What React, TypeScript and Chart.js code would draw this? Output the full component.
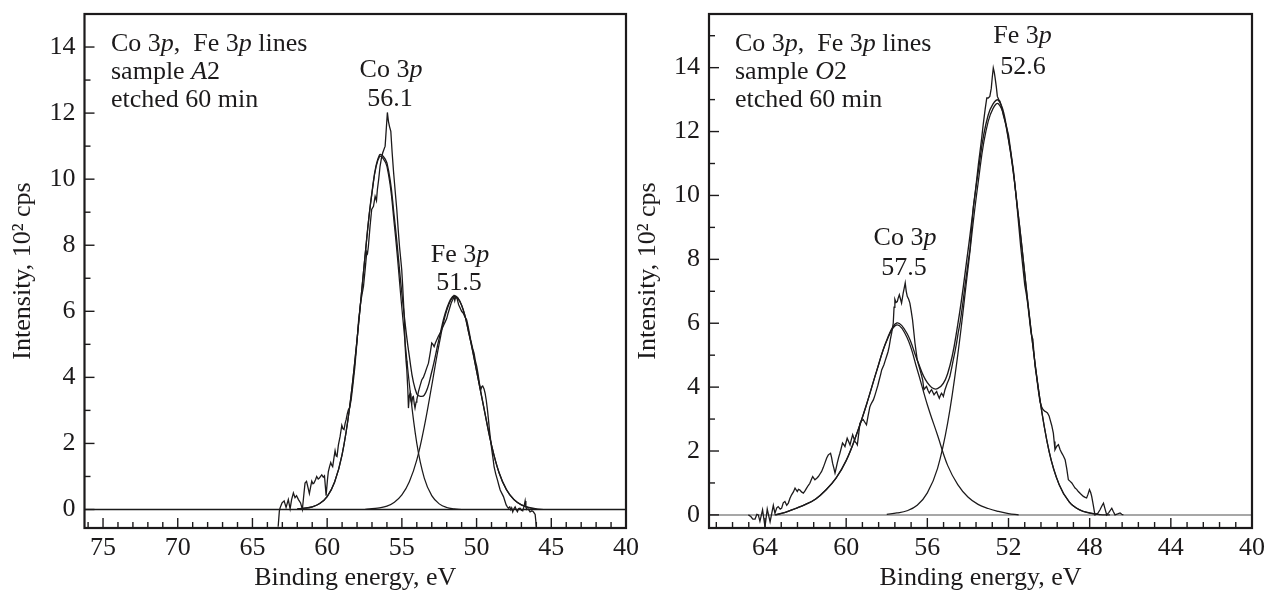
import React, { useEffect, useRef } from 'react';
import { Chart, registerables } from 'chart.js';

Chart.register(...registerables);

const FAMILY = '"Liberation Serif", "Times New Roman", Times, serif';
const INK = '#1c1a1b';

// ---------------- Left panel: sample A2 ----------------
const leftEnergyRange = [40, 76.24];
const leftIntensityRange = [-0.56, 15.0];

// measured spectrum [binding energy eV, intensity 10^2 cps]
const leftMeasured: Array<[number, number]> = [
  [63.28, -0.52], [63.2, -0.05], [63.15, 0.05], [63.02, 0.2], [62.88, 0.26], [62.75, 0.06], [62.6, 0.3], [62.48, 0.02],
  [62.38, 0.3], [62.26, 0.5], [62.15, 0.36], [62.05, 0.42], [61.92, 0.3], [61.78, 0.2], [61.66, 0.0], [61.55, 0.5],
  [61.48, 0.8], [61.38, 0.85], [61.3, 0.7], [61.19, 0.48], [61.1, 0.7], [61.03, 0.86], [60.95, 0.78], [60.88, 0.8],
  [60.78, 0.9], [60.7, 1.0], [60.6, 0.92], [60.52, 0.95], [60.44, 1.0], [60.36, 1.05], [60.26, 0.98], [60.18, 1.02],
  [60.12, 0.7], [60.07, 0.42], [59.98, 0.9], [59.92, 1.15], [59.84, 1.3], [59.76, 1.42], [59.7, 1.35], [59.63, 1.3],
  [59.55, 1.55], [59.47, 1.78], [59.4, 1.62], [59.34, 1.6], [59.25, 1.95], [59.13, 2.22], [59.02, 2.55], [58.95, 2.45],
  [58.87, 2.42], [58.8, 2.6], [58.73, 2.72], [58.65, 2.9], [58.58, 3.02], [58.5, 3.08], [58.4, 3.3], [58.29, 3.72],
  [58.15, 4.3], [58.0, 5.1], [57.9, 5.7], [57.75, 6.3], [57.57, 6.75], [57.45, 7.3], [57.35, 7.8], [57.3, 7.75],
  [57.24, 7.97], [57.13, 8.57], [57.02, 9.08], [56.9, 9.18], [56.79, 9.48], [56.7, 9.35], [56.64, 9.68], [56.55, 10.0],
  [56.46, 10.39], [56.36, 10.65], [56.28, 10.8], [56.12, 11.0], [55.97, 12.02], [55.9, 11.75], [55.83, 11.6], [55.74, 11.45],
  [55.65, 10.8], [55.56, 10.24], [55.45, 9.65], [55.34, 9.08], [55.25, 8.5], [55.16, 7.97], [55.08, 7.6], [55.01, 7.26],
  [54.95, 6.8], [54.9, 6.35], [54.83, 5.74], [54.78, 4.93], [54.72, 4.5], [54.67, 4.23], [54.6, 3.6], [54.56, 3.07],
  [54.5, 3.45], [54.45, 3.52], [54.4, 3.3], [54.34, 3.22], [54.28, 3.4], [54.23, 3.42], [54.17, 3.2], [54.12, 3.07],
  [54.05, 3.25], [54.0, 3.32], [53.89, 3.57], [53.78, 3.75], [53.67, 3.92], [53.56, 4.0], [53.45, 4.13], [53.34, 4.28],
  [53.22, 4.43], [53.1, 4.75], [53.0, 5.04], [52.92, 5.0], [52.84, 4.93], [52.75, 5.05], [52.66, 5.14], [52.55, 5.25],
  [52.44, 5.34], [52.33, 5.45], [52.22, 5.56], [52.1, 5.68], [52.0, 5.78], [51.9, 5.95], [51.8, 6.1], [51.7, 6.25],
  [51.6, 6.35], [51.52, 6.45], [51.46, 6.32], [51.4, 6.44], [51.3, 6.38], [51.2, 6.2], [51.1, 6.1], [51.0, 6.0],
  [50.9, 5.95], [50.8, 5.85], [50.66, 5.74], [50.57, 5.55], [50.48, 5.34], [50.4, 5.15], [50.32, 4.99], [50.25, 4.85],
  [50.17, 4.73], [50.08, 4.5], [49.99, 4.33], [49.9, 4.1], [49.81, 3.82], [49.72, 3.62], [49.65, 3.72], [49.59, 3.74],
  [49.5, 3.65], [49.43, 3.52], [49.35, 3.3], [49.27, 3.01], [49.2, 2.7], [49.14, 2.41], [49.06, 2.1], [48.98, 1.8],
  [48.9, 1.55], [48.83, 1.3], [48.72, 1.08], [48.6, 0.89], [48.5, 0.72], [48.42, 0.59], [48.3, 0.48], [48.2, 0.39],
  [48.1, 0.25], [48.02, 0.14], [47.94, 0.08], [47.87, 0.04], [47.78, 0.08], [47.71, -0.01], [47.65, 0.05], [47.58, -0.07],
  [47.5, 0.02], [47.42, 0.08], [47.35, 0.0], [47.27, -0.07], [47.18, 0.03], [47.09, 0.04], [47.0, -0.02], [46.91, -0.04],
  [46.82, 0.1], [46.75, 0.26], [46.7, 0.08], [46.64, 0.0], [46.55, 0.02], [46.42, -0.07], [46.3, -0.04], [46.2, -0.07],
  [46.08, -0.15], [46.0, -0.52],
];

// fitted Co 3p component
const leftCoEnergy = [62, 61.5, 61, 60.5, 60, 59.5, 59, 58.5, 58, 57.5, 57, 56.5, 56, 55.5, 55, 54.5, 54, 53.5, 53, 52.5, 52, 51.5, 51];
const leftCoIntensity = [0.02, 0.04, 0.08, 0.18, 0.39, 0.83, 1.66, 3.08, 5.14, 7.51, 9.58, 10.68, 10.39, 8.6, 6.1, 3.8, 2.0, 0.95, 0.42, 0.17, 0.06, 0.02, 0.0];
// fitted Fe 3p component
const leftFeEnergy = [57.5, 57, 56.5, 56, 55.5, 55, 54.5, 54, 53.5, 53, 52.5, 52, 51.5, 51, 50.5, 50, 49.5, 49, 48.5, 48, 47.5, 47, 46.5, 46, 45.5];
const leftFeIntensity = [0.0, 0.03, 0.05, 0.1, 0.22, 0.44, 0.84, 1.5, 2.51, 3.75, 5.02, 6.02, 6.45, 6.18, 5.3, 4.2, 3.05, 1.95, 1.12, 0.6, 0.3, 0.14, 0.06, 0.02, 0.0];
// fitted envelope (sum)
const leftSumEnergy = [62, 61.5, 61, 60.5, 60, 59.5, 59, 58.5, 58, 57.5, 57, 56.5, 56, 55.5, 55, 54.5, 54, 53.5, 53, 52.5, 52, 51.5, 51, 50.5, 50, 49.5, 49, 48.5, 48, 47.5, 47, 46.5, 46];
const leftSumIntensity = [0.02, 0.04, 0.08, 0.18, 0.39, 0.83, 1.66, 3.08, 5.14, 7.51, 9.61, 10.73, 10.49, 8.82, 6.54, 4.64, 3.5, 3.46, 4.17, 5.19, 6.08, 6.47, 6.18, 5.3, 4.2, 3.05, 1.95, 1.12, 0.6, 0.3, 0.14, 0.06, 0.02];
// zero line
const leftZeroEnergy = [76.24, 40];
const leftZeroIntensity = [0, 0];

// ---------------- Right panel: sample O2 ----------------
const rightEnergyRange = [40, 66.76];
const rightIntensityRange = [-0.41, 15.68];

const rightMeasured: Array<[number, number]> = [
  [64.82, 0.0], [64.7, -0.05], [64.6, -0.13], [64.49, -0.13], [64.4, 0.02], [64.33, 0.0], [64.25, -0.2], [64.12, 0.16],
  [64.0, -0.37], [63.89, 0.18], [63.75, -0.22], [63.59, 0.3], [63.51, 0.05], [63.42, 0.22], [63.35, 0.26], [63.25, 0.18],
  [63.18, 0.21], [63.1, 0.38], [63.02, 0.42], [62.93, 0.3], [62.85, 0.37], [62.77, 0.52], [62.69, 0.63], [62.6, 0.72],
  [62.52, 0.84], [62.41, 0.73], [62.35, 0.8], [62.28, 0.78], [62.2, 0.72], [62.11, 0.68], [62.03, 0.75], [61.95, 0.84],
  [61.87, 0.92], [61.79, 0.99], [61.72, 1.1], [61.65, 1.2], [61.54, 1.1], [61.45, 1.15], [61.37, 1.2], [61.29, 1.28],
  [61.21, 1.36], [61.13, 1.48], [61.05, 1.62], [60.96, 1.78], [60.88, 1.88], [60.77, 1.93], [60.72, 1.8], [60.67, 1.62],
  [60.6, 1.45], [60.55, 1.31], [60.5, 1.45], [60.44, 1.62], [60.37, 1.8], [60.31, 1.93], [60.24, 2.1], [60.18, 2.25],
  [60.12, 2.2], [60.06, 2.14], [59.95, 2.4], [59.88, 2.3], [59.81, 2.19], [59.75, 2.35], [59.68, 2.51], [59.62, 2.4],
  [59.57, 2.3], [59.5, 2.25], [59.45, 2.19], [59.38, 2.55], [59.32, 2.87], [59.24, 2.95], [59.16, 2.98], [59.08, 2.9],
  [59.0, 2.82], [58.92, 3.1], [58.83, 3.39], [58.75, 3.5], [58.66, 3.6], [58.58, 3.75], [58.5, 3.92], [58.44, 4.05],
  [58.37, 4.23], [58.3, 4.4], [58.25, 4.54], [58.14, 4.7], [58.08, 4.82], [58.01, 4.96], [57.94, 5.1], [57.88, 5.27],
  [57.82, 5.5], [57.76, 5.69], [57.68, 6.0], [57.64, 6.5], [57.6, 6.75], [57.54, 6.65], [57.48, 6.68], [57.43, 6.8],
  [57.38, 6.89], [57.32, 6.75], [57.27, 6.63], [57.19, 6.94], [57.14, 7.1], [57.09, 7.26], [57.04, 7.0], [56.99, 6.84],
  [56.92, 6.75], [56.86, 6.63], [56.8, 6.4], [56.73, 6.11], [56.67, 5.75], [56.61, 5.38], [56.55, 5.1], [56.5, 4.86],
  [56.43, 4.7], [56.36, 4.54], [56.3, 4.4], [56.23, 4.23], [56.17, 3.92], [56.1, 3.98], [56.04, 4.02], [55.97, 3.9],
  [55.9, 3.81], [55.84, 3.88], [55.79, 3.92], [55.73, 3.84], [55.67, 3.76], [55.6, 3.82], [55.54, 3.86], [55.48, 3.75],
  [55.41, 3.65], [55.35, 3.75], [55.3, 3.81], [55.25, 3.76], [55.21, 3.71], [55.13, 3.92], [55.02, 4.12], [54.95, 4.22],
  [54.89, 4.33], [54.8, 4.6], [54.72, 4.86], [54.64, 5.1], [54.56, 5.38], [54.48, 5.7], [54.39, 6.0], [54.31, 6.35],
  [54.23, 6.73], [54.15, 7.15], [54.06, 7.57], [53.98, 7.95], [53.9, 8.3], [53.82, 8.95], [53.73, 9.66], [53.64, 10.1],
  [53.55, 10.6], [53.48, 11.0], [53.4, 11.4], [53.32, 11.8], [53.25, 12.2], [53.15, 12.7], [53.07, 13.05], [53.0, 13.05],
  [52.92, 13.1], [52.85, 13.35], [52.8, 13.7], [52.75, 13.99], [52.7, 13.85], [52.66, 13.68], [52.6, 13.4], [52.55, 13.1],
  [52.48, 13.0], [52.42, 12.95], [52.33, 12.75], [52.25, 12.5], [52.12, 12.2], [52.0, 11.9], [51.88, 11.35], [51.75, 10.75],
  [51.6, 9.8], [51.5, 9.1], [51.4, 8.4], [51.3, 7.8], [51.2, 7.2], [51.12, 6.9], [51.05, 6.6], [50.98, 6.2],
  [50.9, 5.75], [50.86, 5.6], [50.8, 5.5], [50.75, 5.1], [50.69, 4.65], [50.6, 4.25], [50.53, 3.9], [50.45, 3.55],
  [50.38, 3.4], [50.3, 3.3], [50.2, 3.24], [50.14, 3.22], [50.08, 3.19], [50.0, 3.1], [49.95, 2.98], [49.87, 2.8],
  [49.79, 2.56], [49.75, 2.3], [49.71, 2.04], [49.62, 2.15], [49.54, 2.2], [49.46, 2.05], [49.38, 1.94], [49.3, 1.85],
  [49.21, 1.73], [49.13, 1.45], [49.05, 1.1], [48.96, 1.05], [48.88, 1.0], [48.8, 0.92], [48.72, 0.84], [48.64, 0.8],
  [48.56, 0.73], [48.45, 0.66], [48.31, 0.58], [48.22, 0.55], [48.15, 0.53], [48.08, 0.65], [48.01, 0.79], [47.95, 0.7],
  [47.9, 0.58], [47.82, 0.3], [47.74, 0.0], [47.6, 0.05], [47.49, 0.16], [47.4, 0.28], [47.32, 0.37], [47.24, 0.18],
  [47.16, 0.0], [47.05, 0.08], [46.91, 0.21], [46.83, 0.1], [46.75, 0.0], [46.62, 0.03], [46.5, 0.06], [46.42, 0.02],
  [46.34, 0.0],
];

const rightCoEnergy = [63.5, 63, 62.5, 62, 61.5, 61, 60.5, 60, 59.5, 59, 58.5, 58, 57.5, 57, 56.5, 56, 55.5, 55, 54.5, 54, 53.5, 53, 52.5, 52, 51.5];
const rightCoIntensity = [0.0, 0.08, 0.2, 0.33, 0.5, 0.78, 1.15, 1.7, 2.5, 3.45, 4.5, 5.45, 5.95, 5.55, 4.55, 3.45, 2.5, 1.55, 0.95, 0.56, 0.33, 0.2, 0.11, 0.04, 0.0];
const rightFeEnergy = [58, 57.5, 57, 56.5, 56, 55.5, 55, 54.5, 54, 53.5, 53, 52.5, 52, 51.5, 51, 50.5, 50, 49.5, 49, 48.5, 48, 47.5, 47];
const rightFeIntensity = [0.02, 0.06, 0.13, 0.3, 0.69, 1.45, 2.87, 5.01, 7.69, 10.38, 12.32, 12.87, 11.73, 9.29, 6.39, 3.83, 1.99, 0.94, 0.4, 0.16, 0.06, 0.01, 0.0];
const rightSumEnergy = [63.5, 63, 62.5, 62, 61.5, 61, 60.5, 60, 59.5, 59, 58.5, 58, 57.5, 57, 56.5, 56, 55.5, 55, 54.5, 54, 53.5, 53, 52.5, 52, 51.5, 51, 50.5, 50, 49.5, 49, 48.5, 48, 47.5];
const rightSumIntensity = [0.0, 0.08, 0.2, 0.33, 0.5, 0.78, 1.15, 1.7, 2.5, 3.45, 4.5, 5.47, 6.01, 5.68, 4.85, 4.14, 3.95, 4.42, 5.96, 8.25, 10.71, 12.52, 12.98, 11.77, 9.29, 6.39, 3.83, 1.99, 0.94, 0.4, 0.16, 0.06, 0.01];
const rightZeroEnergy = [66.76, 40];
const rightZeroIntensity = [0, 0];

// ---------------- text ----------------
type Seg = { t: string; i?: boolean };
type Note = { dx: number; dy: number; center: boolean; segs: Seg[] };

const leftNotes: Note[] = [
  { dx: 26.5, dy: 37, center: false, segs: [{ t: 'Co 3' }, { t: 'p', i: true }, { t: ',  Fe 3' }, { t: 'p', i: true }, { t: ' lines' }] },
  { dx: 26.5, dy: 65, center: false, segs: [{ t: 'sample ' }, { t: 'A', i: true }, { t: '2' }] },
  { dx: 26.5, dy: 93, center: false, segs: [{ t: 'etched 60 min' }] },
  { dx: 306.5, dy: 63, center: true, segs: [{ t: 'Co 3' }, { t: 'p', i: true }] },
  { dx: 305.5, dy: 92, center: true, segs: [{ t: '56.1' }] },
  { dx: 375.5, dy: 248, center: true, segs: [{ t: 'Fe 3' }, { t: 'p', i: true }] },
  { dx: 374.5, dy: 276, center: true, segs: [{ t: '51.5' }] },
];
const rightNotes: Note[] = [
  { dx: 26, dy: 37, center: false, segs: [{ t: 'Co 3' }, { t: 'p', i: true }, { t: ',  Fe 3' }, { t: 'p', i: true }, { t: ' lines' }] },
  { dx: 26, dy: 65, center: false, segs: [{ t: 'sample ' }, { t: 'O', i: true }, { t: '2' }] },
  { dx: 26, dy: 93, center: false, segs: [{ t: 'etched 60 min' }] },
  { dx: 313.5, dy: 29, center: true, segs: [{ t: 'Fe 3' }, { t: 'p', i: true }] },
  { dx: 314, dy: 60, center: true, segs: [{ t: '52.6' }] },
  { dx: 196, dy: 231, center: true, segs: [{ t: 'Co 3' }, { t: 'p', i: true }] },
  { dx: 195, dy: 261, center: true, segs: [{ t: '57.5' }] },
];

const TEXT_SIZE = 26;

const isMult = (v: number, m: number) => Math.abs(v / m - Math.round(v / m)) < 1e-6;

const decoPlugin = {
  id: 'deco',
  afterDraw(chart: any, _args: any, opts: any) {
    const { ctx, chartArea: a, scales } = chart;
    const xs = scales.x;
    const ys = scales.y;
    ctx.save();
    ctx.strokeStyle = INK;
    ctx.lineWidth = 1.4;
    xs.ticks.forEach((t: any) => {
      const px = xs.getPixelForValue(t.value);
      if (px < a.left + 2 || px > a.right - 2) return;
      const len = isMult(t.value, opts.xMajor) ? 10 : 6;
      ctx.beginPath();
      ctx.moveTo(px, a.bottom);
      ctx.lineTo(px, a.bottom - len);
      ctx.stroke();
    });
    ys.ticks.forEach((t: any) => {
      const py = ys.getPixelForValue(t.value);
      if (py < a.top + 2 || py > a.bottom - 2) return;
      const len = isMult(t.value, 2) ? 10 : 6;
      ctx.beginPath();
      ctx.moveTo(a.left, py);
      ctx.lineTo(a.left + len, py);
      ctx.stroke();
    });
    ctx.lineWidth = 2.2;
    ctx.strokeRect(a.left, a.top, a.right - a.left, a.bottom - a.top);

    ctx.fillStyle = INK;
    ctx.textBaseline = 'alphabetic';
    ctx.textAlign = 'left';
    const fontFor = (it?: boolean) => `${it ? 'italic ' : ''}${TEXT_SIZE}px ${FAMILY}`;
    (opts.notes as Note[]).forEach((n) => {
      let w = 0;
      n.segs.forEach((s) => {
        ctx.font = fontFor(s.i);
        w += ctx.measureText(s.t).width;
      });
      let x = a.left + n.dx - (n.center ? w / 2 : 0);
      const y = a.top + n.dy;
      n.segs.forEach((s) => {
        ctx.font = fontFor(s.i);
        ctx.fillText(s.t, x, y);
        x += ctx.measureText(s.t).width;
      });
    });
    ctx.restore();
  },
};

type PanelSpec = {
  xRange: number[];
  yRange: number[];
  xStep: number;
  xMajor: number;
  measured: Array<[number, number]>;
  co: [number[], number[]];
  fe: [number[], number[]];
  sum: [number[], number[]];
  zero: [number[], number[]];
  zeroColor: string;
  padRight: number;
  yAxisW: number;
  yTitlePad: number;
  notes: Note[];
};

const toPoints = (xs: number[], ys: number[]) => xs.map((x, i) => ({ x, y: ys[i] }));

function makeConfig(p: PanelSpec): any {
  const line = (data: any[], tension: number, width: number, color = INK) => ({
    data,
    borderColor: color,
    borderWidth: width,
    pointRadius: 0,
    tension,
    fill: false,
  });
  const tickFont = { family: FAMILY, size: TEXT_SIZE };
  const titleFont = { family: FAMILY, size: TEXT_SIZE, lineHeight: 1.2 };
  return {
    type: 'line',
    data: {
      datasets: [
        line(p.measured.map(([x, y]) => ({ x, y })), 0, 1.3),
        line(toPoints(p.sum[0], p.sum[1]), 0.4, 1.35),
        line(toPoints(p.co[0], p.co[1]), 0.4, 1.25),
        line(toPoints(p.fe[0], p.fe[1]), 0.4, 1.25),
        line(toPoints(p.zero[0], p.zero[1]), 0, 1.5, p.zeroColor),
      ],
    },
    options: {
      responsive: false,
      animation: false,
      devicePixelRatio: 1,
      events: [],
      layout: { padding: { left: 0, top: 14, right: p.padRight, bottom: 0 } },
      plugins: {
        legend: { display: false },
        tooltip: { enabled: false },
        deco: { xMajor: p.xMajor, notes: p.notes },
      },
      scales: {
        x: {
          type: 'linear',
          reverse: true,
          min: p.xRange[0],
          max: p.xRange[1],
          grid: { display: false, drawTicks: false },
          border: { display: false },
          ticks: {
            stepSize: p.xStep,
            autoSkip: false,
            maxRotation: 0,
            minRotation: 0,
            includeBounds: false,
            maxTicksLimit: 200,
            padding: 5,
            color: INK,
            font: tickFont,
            callback: (v: number) => (isMult(v, p.xMajor) ? String(Math.round(v)) : ''),
          },
          title: { display: true, text: 'Binding energy, eV', color: INK, font: titleFont, padding: { top: 0, bottom: 1 } },
          afterFit: (s: any) => {
            s.height = 67;
            s.paddingLeft = 0;
            s.paddingRight = 0;
          },
        },
        y: {
          type: 'linear',
          min: p.yRange[0],
          max: p.yRange[1],
          grid: { display: false, drawTicks: false },
          border: { display: false },
          ticks: {
            stepSize: 1,
            autoSkip: false,
            includeBounds: false,
            maxTicksLimit: 200,
            padding: 9,
            color: INK,
            font: tickFont,
            callback: (v: number) => (isMult(v, 2) ? String(Math.round(v)) : ''),
          },
          title: { display: true, text: 'Intensity, 10² cps', color: INK, font: titleFont, padding: { top: p.yTitlePad, bottom: 0 } },
          afterFit: (s: any) => {
            s.width = p.yAxisW;
            s.paddingTop = 0;
            s.paddingBottom = 0;
          },
        },
      },
    },
    plugins: [decoPlugin],
  };
}

const leftSpec: PanelSpec = {
  xRange: leftEnergyRange,
  yRange: leftIntensityRange,
  xStep: 1,
  xMajor: 5,
  measured: leftMeasured,
  co: [leftCoEnergy, leftCoIntensity],
  fe: [leftFeEnergy, leftFeIntensity],
  sum: [leftSumEnergy, leftSumIntensity],
  zero: [leftZeroEnergy, leftZeroIntensity],
  zeroColor: '#1a1a1a',
  padRight: 14,
  yAxisW: 84.5,
  yTitlePad: 8,
  notes: leftNotes,
};

const rightSpec: PanelSpec = {
  xRange: rightEnergyRange,
  yRange: rightIntensityRange,
  xStep: 0.8,
  xMajor: 4,
  measured: rightMeasured,
  co: [rightCoEnergy, rightCoIntensity],
  fe: [rightFeEnergy, rightFeIntensity],
  sum: [rightSumEnergy, rightSumIntensity],
  zero: [rightZeroEnergy, rightZeroIntensity],
  zeroColor: '#8a8a8a',
  padRight: 17,
  yAxisW: 89,
  yTitlePad: 12.4,
  notes: rightNotes,
};

function Panel({ spec, left, width }: { spec: PanelSpec; left: number; width: number }) {
  const ref = useRef<HTMLCanvasElement>(null);
  useEffect(() => {
    if (!ref.current) return;
    const chart = new Chart(ref.current, makeConfig(spec));
    return () => chart.destroy();
  }, [spec]);
  return (
    <canvas
      ref={ref}
      width={width}
      height={595}
      style={{ position: 'absolute', left, top: 0, width, height: 595 }}
    />
  );
}

export default function App() {
  return (
    <div style={{ position: 'absolute', left: 0, top: 0, width: 1269, height: 595, background: '#ffffff', overflow: 'hidden' }}>
      <Panel spec={leftSpec} left={0} width={640} />
      <Panel spec={rightSpec} left={620} width={649} />
    </div>
  );
}
